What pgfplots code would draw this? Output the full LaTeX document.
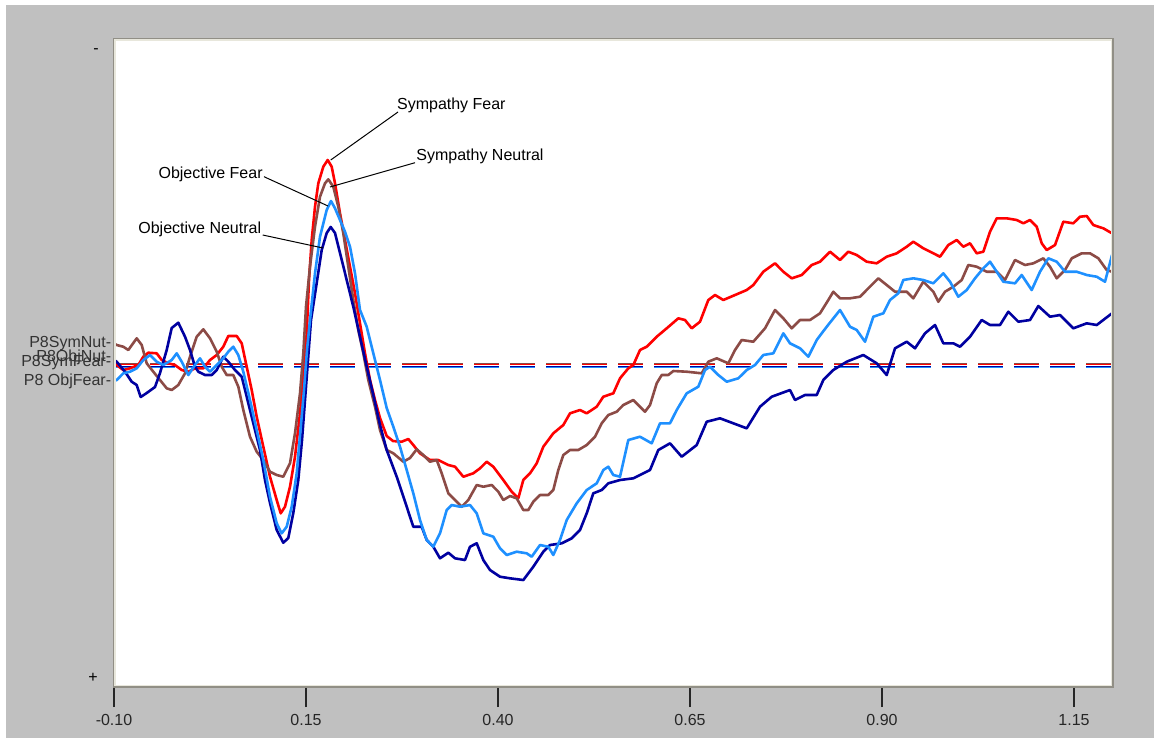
\documentclass[border=0pt]{standalone}
\usepackage{fontspec}
\setmainfont{Liberation Sans}
\usepackage{pgfplots}
\pgfplotsset{compat=1.18}
\definecolor{bgray}{RGB}{192,192,192}
\definecolor{sfred}{RGB}{255,0,0}
\definecolor{snbrown}{RGB}{140,75,70}
\definecolor{ofblue}{RGB}{30,144,255}
\definecolor{onblue}{RGB}{0,0,160}
\definecolor{frameDark}{RGB}{145,143,134}
\definecolor{frameLight}{RGB}{232,231,220}

% x: screen column (converted to seconds by x filter), y: screen row (negative up)
\pgfplotstableread{
x y
114 362
116.7 365
123.3 370
130 368.3
138.3 365
143.3 356.7
148.3 352.7
156.7 353.3
161.7 360
168.3 363.3
175 365
181.7 370
188.3 371.7
195 368.3
203.3 368.3
210 360
216.7 355
223.3 346.7
228.3 336
236.7 336
241.7 343.3
246.7 366.7
251.7 390
256.7 416.7
263.3 446.7
270 476.7
276.7 500
280.7 513.3
285 506.7
290 486.7
295 456.7
300 413.3
303.3 376.7
306.7 333.3
309 280
311.7 240
315 206.7
318.3 183.3
323.3 166.7
327.7 160
331.7 166.7
335 183.3
340 213.3
345 240
350 266.7
355 293.3
360 323.3
365 353.3
370 380
375 400
380 418
386.7 436
393 441
401.7 441.7
408.3 439
413.3 445
420 453.3
430 460
438.3 460
448.3 465
455 466.7
463.3 476.7
473.3 473.3
480 468.3
486.7 461.7
493.3 466.7
503.3 480
511.7 491.7
518.3 498.3
523.3 480
530 473.3
536.7 463.3
543.3 446.7
553.3 433.3
563.3 425
570 413.3
580 410
586.7 413.3
596.7 406.7
603.3 396.7
613.3 393.3
620 378.3
628.3 368.3
633.3 365
640 350
646.7 346.7
656.7 336.7
666.7 328.3
678.3 318.3
685 320
691.7 328.3
700 321.7
708.3 300
715 295
723.3 300
735 295
746.7 290
753.3 285
763.3 271.7
775 263.3
783.3 271.7
791.7 278.3
801.7 275
811.7 265
820 261.7
830 251.7
840 260
848.3 251.7
856.7 255
866.7 261.7
876.7 263.3
886.7 256.7
896.7 253.3
906.7 246.7
913.3 241.7
923.3 248.3
933.3 253.3
940 256.7
948.3 245
956.7 240
963.3 246.7
970 243.3
976.7 253.3
983.3 251.7
990 231.7
996.7 218.3
1006.7 218.3
1016.7 220
1023.3 223.3
1030 220
1036.7 226.7
1041.7 243.3
1046.7 250
1055 245
1063.3 221.7
1073.3 223.3
1080 216.7
1086.7 216
1093.3 225
1103.3 228.3
1112 233.3
}\symfear

\pgfplotstableread{
x y
114 343.3
116.7 345
123.3 346.7
128.3 350
136.7 338.3
141.7 345
146.7 363.3
153.3 371.7
160 380
166.7 388.3
171.7 390
178.3 385
185 373.3
190 356.7
196.7 336.7
203.3 329.3
210 338.3
216.7 351.7
221.7 366.7
226.7 375
233.3 375
238.3 386.7
243.3 410
250 436.7
256.7 451.7
263.3 460
270 471.7
276.7 475
283.3 476.7
290 463.3
295 433.3
300 393.3
303.3 353.3
306 306.7
310 266.7
315 226.7
320 196.7
325 183.3
328.3 179.3
333.3 186.7
338.3 206.7
343.3 233.3
348.3 266.7
353.3 300
358.3 330
363.3 353.3
368.3 380
375 406.7
380 430
386.7 450
393.3 453.3
403.3 461.7
410 458
416.7 449.3
423.3 455
430 461.7
436.7 460
441.7 473.3
448.3 493.3
455 500
461.7 506.7
468.3 500
476.7 485
483.3 486.7
491.7 485
498.3 491.7
503.3 500
510 496
516.7 498.3
523.3 510
528.3 510
533.3 501.7
540 495
548.3 495
553.3 490
558.3 470
563.3 455
570 450
578.3 450
586.7 445
595 436.7
601.7 423.3
608.3 415
616.7 411.7
623.3 405
633.3 400
640 406.7
645 411.7
650 405
656.7 383.3
661.7 375
668.3 375
673.3 371
686.7 371.7
701.7 373.3
708.3 361.7
716.7 358.3
728.3 363.3
735 350
741.7 340
753.3 341.7
765 328.3
775 310
783.3 318.3
791.7 328.3
800 320
810 320
820 313.3
828.3 300
833.3 291.7
840 298.3
850 298.3
860 296.7
868.3 288.3
878.3 278.3
886.7 285
895 291.7
906.7 291.7
913.3 298.3
923.3 281.7
933.3 291.7
938.3 301.7
945 291.7
953.3 286.7
961.7 280
968.3 265
976.7 266.7
986.7 271.7
996.7 271.7
1005 280
1015 260
1025 265
1033.3 263.3
1043.3 258.3
1050 266.7
1056.7 278.3
1065 270
1071.7 258.3
1081.7 253.3
1090 253.3
1098.3 258.3
1106.7 270
1112 271.7
}\symneut

\pgfplotstableread{
x y
114 381
116.7 380
123.3 373.3
130 371.7
136.7 368.3
143.3 360
150 355
156.7 361.7
163.3 365
171.7 360
176.7 353.3
181.7 361.7
188.3 375
195 365
200 358.3
205 366.7
210 371.7
216.7 365
223.3 358.3
228.3 351.7
233.3 346.7
238.3 355
243.3 371.7
250 400
256.7 430
263.3 460
270 496.7
276.7 523.3
281.7 533.3
286.7 526.7
291.7 506.7
296.7 473.3
300.5 430
304 390
307 350
310 320
315 273.3
320 236.7
326.7 210
331 201
335 208.3
340 220
345 231.7
350 246.7
355 273.3
360 310
366.7 326.7
373.3 353.3
380 380
386.7 408
393.3 426.7
400 446.7
406.7 470
413.3 493.3
420 520
426.7 540
433.3 546.7
440 533.3
446.7 510
451.7 505
460 506.7
470 505
476.7 513.3
483.3 533.3
493.3 536.7
500 548.3
506.7 555
516.7 551.7
526.7 553.3
531.7 556.7
540 545
548.3 546.7
553.3 555
560 540
566.7 520
576.7 503.3
586.7 490
596.7 483.3
603.3 470
608.3 466.7
613.3 475
620 476.7
628.3 440
640 436.7
651.7 443.3
660 423.3
670 423.3
676.7 410
686.7 393.3
698.3 386.7
705 370
710 366.7
718.3 375
726.7 381.7
738.3 378.3
746.7 370
755 365
763.3 355
773.3 353.3
783.3 333.3
790 343.3
800 348.3
808.3 356.7
816.7 340
826.7 326.7
840 310
850 326.7
856.7 330
865 341.7
873.3 316.7
883.3 313.3
890 300
898.3 293.3
903.3 280
913.3 278.3
923.3 280
933.3 283.3
943.3 273.3
950 281.7
958.3 296.7
966.7 290
975 278.3
983.3 268.3
990 261.7
996.7 271.7
1003.3 281.7
1015 283.3
1021.7 275
1031.7 290
1040 271.7
1048.3 258.3
1056.7 261.7
1065 271.7
1076.7 271.7
1086.7 275
1096.7 276.7
1105 281.7
1112 255
}\objfear

\pgfplotstableread{
x y
114 360
116.7 361.7
125 371.7
131.7 381.7
136.7 385
140.7 397
146.7 393
155 387
160 373
166.7 350
171.7 328
178.3 322.7
185 336.7
190 350
195 366.7
198.3 371.7
205 375
211.7 375
216.7 370
223.3 356.7
228.3 361.7
235 370
241.7 376.7
246.7 396.7
253.3 423.3
260 450
265 480
270 503
276.7 530
283.3 542.7
288.3 538
293.3 513
298.3 480
302 440
305 400
308 360
311 320
316.7 283
321.7 250
326.7 233
330.7 227
335 233
340 253
346.7 280
353.3 306.7
360 336.7
366.7 366.7
373.3 395
380 425
386.7 450
396.7 476.7
406.7 506.7
413.3 526.7
421.7 526.7
426.7 540
433.3 546.7
440 558.3
448.3 552.7
455 558.3
465 560
470 546.7
476.7 543.3
483.3 560
490 570
500 576.7
510 578.3
523.3 580
533.3 566.7
543.3 551.7
550 545
561.7 543.3
571.7 538.3
580 530
586.7 513.3
593.3 493.3
601.7 490
608.3 483.3
620 480
633.3 478.3
650 470
658.3 450
670 443.3
681.7 456.7
696.7 445
706.7 421.7
720 418.3
733.3 423.3
746.7 428.3
760 406.7
771.7 396.7
790 390
795 400
805 395
816.7 395
823.3 380
833.3 370
846.7 361.7
863.3 355
876.7 363.3
886.7 375
895 348.3
906.7 341.7
915 348.3
925 333.3
935 325
943.3 343.3
953.3 343.3
960 346.7
970 336.7
981.7 320
990 325
1000 325
1008.3 311.7
1018.3 321.7
1030 320
1038.3 306
1050 316.7
1060 315
1073.3 328.3
1086.7 323.3
1096.7 325
1112 313.3
}\objneut

\begin{document}
\begin{tikzpicture}
\fill[white] (0,0) rectangle (577pt,-369pt);
\fill[bgray] (3pt,-2.5pt) rectangle (577pt,-369pt);
\begin{axis}[
  at={(57pt,-343.5pt)}, anchor=south west,
  scale only axis, width=499.2pt, height=324.5pt,
  xmin=-0.1, xmax=1.2, ymin=38, ymax=687, y dir=reverse,
  x filter/.expression={-0.1+(x-114)/768},
  axis background/.style={fill=white},
  axis line style={draw=none},
  ytick=\empty,
  xtick={-0.1,0.15,0.4,0.65,0.9,1.15},
  xticklabels={-0.10,0.15,0.40,0.65,0.90,1.15},
  xtick pos=bottom, tick align=outside, major tick length=10pt,
  tick style={line width=0.8pt, color=black!85},
  xticklabel style={font=\fontsize{8pt}{9.6pt}\selectfont, text=black!85},
  every axis plot/.append style={line join=round, no markers},
]
\addplot[sfred, line width=0.5pt, dash pattern=on 12.5pt off 5.5pt] coordinates {(114,364.2) (1113,364.2)};
\addplot[snbrown, line width=0.6pt, dash pattern=on 12.5pt off 5.5pt] coordinates {(114,363.4) (1113,363.4)};
\addplot[onblue, line width=0.5pt, dash pattern=on 12.5pt off 5.5pt] coordinates {(114,366.6) (1113,366.6)};
\addplot[ofblue, line width=0.6pt, dash pattern=on 12.5pt off 5.5pt] coordinates {(114,367.2) (1113,367.2)};
\addplot[sfred, line width=1.3pt] table {\symfear};
\addplot[snbrown, line width=1.3pt] table {\symneut};
\addplot[onblue, line width=1.3pt] table {\objneut};
\addplot[ofblue, line width=1.3pt] table {\objfear};
\end{axis}
\begin{scope}[x=0.5pt,y=-0.5pt, font=\fontsize{8pt}{9.6pt}\selectfont]
\draw[frameDark, line width=0.6pt] (113.5,38.5) rectangle (1113,687);
\draw[frameLight, line width=0.7pt] (115,40) rectangle (1111.5,685.5);
% polarity markers
\node[inner sep=0] at (96,51) {-};
\node[inner sep=0] at (93,678) {+};
% baseline labels
\node[inner sep=0, anchor=east, text=black!80] at (111.5,344) {P8SymNut-};
\node[inner sep=0, anchor=east, text=black!80] at (111.5,357) {P8ObjNut-};
\node[inner sep=0, anchor=east, text=black!80] at (111.5,363) {P8SymFear-};
\node[inner sep=0, anchor=east, text=black!80] at (111.5,381) {P8 ObjFear-};
% annotations
\node[inner sep=0, anchor=west] at (396.7,105) {Sympathy Fear};
\draw[black, line width=0.5pt] (398,112) -- (330.7,160);
\node[inner sep=0, anchor=west] at (416,156) {Sympathy Neutral};
\draw[black, line width=0.5pt] (415,162.7) -- (330,187);
\node[inner sep=0, anchor=east] at (263,174) {Objective Fear};
\draw[black, line width=0.5pt] (264,176.7) -- (328,206);
\node[inner sep=0, anchor=east] at (261.5,229) {Objective Neutral};
\draw[black, line width=0.5pt] (262.7,235) -- (323,248);
\end{scope}
\pgfresetboundingbox
\useasboundingbox (0,0) rectangle (577pt,-369pt);
\end{tikzpicture}
\end{document}
